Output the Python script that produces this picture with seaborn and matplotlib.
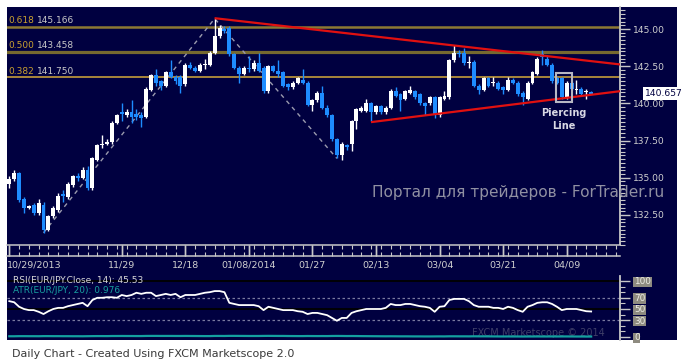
import matplotlib
matplotlib.use("Agg")
import matplotlib.pyplot as plt
import numpy as np
import pandas as pd
import seaborn as sns
from matplotlib.patches import Rectangle
from matplotlib.ticker import MultipleLocator, FixedLocator, FormatStrFormatter
from matplotlib.transforms import blended_transform_factory

# ---------------- data ----------------
opens = [134.6, 134.9, 135.3, 133.6, 133.0, 133.2, 132.6, 133.2, 131.5, 132.4,
         132.8, 133.9, 133.7, 134.5, 135.1, 135.0, 135.5, 134.3, 136.2, 137.2,
         137.3, 137.4, 138.7, 139.4, 139.2, 139.4, 139.3, 139.2, 139.1, 140.9,
         141.9, 141.5, 141.2, 142.1, 141.8, 141.8, 141.3, 142.6, 142.4, 142.2,
         142.55, 142.6, 143.4, 144.5, 145.0, 145.1, 143.3, 142.4, 142.0, 142.4,
         142.3, 142.7, 142.4, 140.8, 142.5, 142.2, 142.1, 141.3, 141.1, 141.4,
         141.6, 141.4, 139.9, 140.2, 140.7, 139.7, 139.2, 137.6, 136.5, 137.2,
         137.3, 138.8, 139.5, 139.5, 140.0, 139.4, 139.8, 139.4, 139.7, 140.8,
         140.6, 140.3, 140.7, 140.8, 140.6, 140.0, 140.0, 140.4, 139.2, 140.3,
         140.4, 142.9, 143.4, 143.4, 142.7, 142.8, 141.2, 140.9, 141.7, 141.35,
         141.4, 141.1, 140.9, 141.6, 141.4, 140.7, 140.3, 141.4, 142.0, 143.3,
         143.0, 142.6, 141.7, 141.7, 140.4, 141.4, 140.9, 141.0, 140.75, 140.75]
closes = [134.9, 135.3, 133.5, 133.0, 133.1, 132.6, 133.3, 131.5, 132.4, 133.0,
          133.8, 133.8, 134.6, 135.1, 135.0, 135.5, 134.3, 136.3, 137.2, 137.3,
          137.4, 138.7, 139.2, 139.3, 139.4, 139.1, 139.1, 139.0, 141.0, 141.9,
          141.4, 141.2, 142.1, 141.8, 141.5, 141.2, 142.6, 142.4, 142.2, 142.6,
          142.65, 143.4, 144.5, 145.1, 144.9, 143.3, 142.4, 142.0, 142.4, 142.3,
          142.7, 142.2, 140.8, 142.5, 142.2, 142.0, 141.2, 141.1, 141.4, 141.7,
          141.4, 139.9, 140.2, 140.7, 139.7, 139.2, 137.6, 136.5, 137.3, 137.1,
          138.8, 139.6, 139.7, 140.0, 139.4, 139.8, 139.4, 139.7, 140.8, 140.5,
          140.2, 140.8, 140.9, 140.4, 140.0, 139.8, 140.4, 139.2, 140.4, 140.5,
          142.9, 143.4, 143.3, 142.7, 142.8, 141.2, 140.9, 141.7, 141.2, 141.45,
          141.0, 140.9, 141.6, 141.4, 140.6, 140.4, 141.4, 142.1, 143.0, 143.1,
          142.6, 141.5, 141.4, 140.4, 141.4, 141.0, 141.0, 140.6, 140.8, 140.657]
highs = [135.1, 135.5, 135.4, 133.7, 133.2, 133.3, 133.6, 133.4, 132.5, 133.1,
         134.0, 134.2, 134.7, 135.2, 135.3, 135.7, 135.8, 136.4, 137.3, 137.9,
         137.6, 138.8, 139.3, 140.0, 139.6, 140.2, 139.6, 139.4, 141.1, 142.0,
         142.3, 141.6, 142.2, 142.9, 141.9, 141.9, 142.7, 142.8, 142.5, 142.7,
         143.0, 143.5, 145.7, 145.3, 145.2, 145.2, 143.4, 142.5, 142.5, 143.2,
         142.9, 143.4, 142.5, 142.6, 142.6, 142.9, 142.2, 141.4, 141.5, 141.8,
         142.3, 141.5, 140.3, 140.8, 141.2, 139.9, 139.3, 137.7, 137.4, 137.3,
         138.9, 139.7, 139.8, 140.3, 140.1, 139.9, 139.9, 139.8, 141.0, 141.1,
         140.7, 140.9, 141.2, 140.9, 140.7, 140.1, 140.5, 140.5, 140.5, 140.8,
         143.0, 143.9, 143.6, 143.7, 143.2, 142.9, 141.3, 141.8, 141.8, 141.8,
         141.5, 141.2, 141.8, 141.7, 141.5, 140.8, 141.5, 142.2, 143.1, 143.6,
         143.2, 142.7, 141.8, 141.8, 141.5, 141.5, 141.6, 141.1, 141.0, 140.8]
lows = [134.3, 134.8, 133.4, 132.6, 132.9, 132.5, 132.5, 131.3, 131.4, 132.3,
        132.7, 133.4, 133.6, 134.4, 134.8, 134.9, 134.2, 134.2, 136.1, 137.0,
        137.2, 137.3, 138.6, 138.8, 139.1, 138.7, 138.9, 138.4, 139.0, 140.8,
        141.2, 140.9, 141.1, 141.7, 141.3, 140.7, 141.2, 142.3, 142.1, 142.1,
        142.3, 142.5, 143.3, 144.4, 144.7, 143.2, 142.3, 141.4, 141.9, 142.1,
        142.2, 142.1, 140.7, 140.7, 142.1, 141.8, 141.1, 140.9, 141.0, 141.3,
        141.3, 139.8, 139.5, 140.1, 139.6, 139.1, 137.5, 136.3, 136.2, 136.9,
        136.8, 138.3, 139.4, 139.4, 138.8, 139.3, 139.3, 139.3, 139.6, 140.4,
        139.5, 140.2, 140.6, 140.3, 139.9, 139.2, 139.9, 139.0, 139.1, 140.2,
        140.3, 142.8, 143.1, 142.6, 142.4, 141.1, 140.6, 140.8, 141.1, 141.2,
        140.9, 140.6, 140.8, 141.3, 140.5, 139.9, 140.2, 141.3, 141.9, 142.6,
        142.5, 141.4, 141.3, 140.3, 140.3, 140.9, 140.6, 140.5, 140.3, 140.6]
rsi = [64, 62, 54, 50, 48, 48, 45, 41, 46, 50,
       52, 52, 55, 57, 59, 61, 55, 66, 70, 70,
       71, 71, 70, 75, 73, 75, 79, 77, 79, 79,
       73, 75, 77, 75, 77, 71, 75, 75, 75, 77,
       79, 80, 82, 82, 80, 61, 59, 57, 57, 57,
       57, 55, 48, 54, 52, 50, 48, 48, 48, 46,
       45, 41, 43, 43, 41, 39, 34, 29, 34, 34,
       43, 46, 48, 50, 50, 50, 50, 52, 59, 57,
       57, 59, 59, 57, 55, 54, 52, 45, 54, 55,
       66, 68, 68, 68, 64, 57, 54, 54, 54, 52,
       52, 50, 54, 52, 48, 45, 54, 57, 61, 62,
       62, 59, 54, 48, 50, 50, 50, 48, 46, 45.53]
atr = [1.05, 1.05, 1.08, 1.08, 1.07, 1.07, 1.06, 1.09, 1.09, 1.08,
       1.08, 1.07, 1.07, 1.06, 1.06, 1.05, 1.07, 1.09, 1.10, 1.10,
       1.09, 1.12, 1.12, 1.13, 1.12, 1.12, 1.11, 1.11, 1.14, 1.15,
       1.15, 1.14, 1.14, 1.14, 1.13, 1.13, 1.14, 1.13, 1.12, 1.11,
       1.10, 1.10, 1.14, 1.14, 1.13, 1.16, 1.16, 1.15, 1.14, 1.13,
       1.13, 1.13, 1.15, 1.16, 1.15, 1.14, 1.14, 1.12, 1.11, 1.10,
       1.10, 1.12, 1.11, 1.10, 1.11, 1.10, 1.13, 1.14, 1.13, 1.11,
       1.12, 1.11, 1.09, 1.08, 1.07, 1.06, 1.05, 1.04, 1.05, 1.04,
       1.03, 1.03, 1.02, 1.01, 1.01, 1.00, 1.00, 1.01, 1.02, 1.01,
       1.04, 1.04, 1.03, 1.03, 1.02, 1.04, 1.03, 1.03, 1.02, 1.01,
       1.00, 0.99, 1.00, 0.99, 0.99, 0.98, 0.99, 0.99, 1.00, 0.99,
       0.99, 1.00, 0.99, 1.00, 1.00, 0.99, 0.98, 0.98, 0.97, 0.976]

date_labels = ["10/29/2013", "11/29", "12/18", "01/08/2014", "01/27",
               "02/13", "03/04", "03/21", "04/09"]
date_idx = [0, 23, 36, 49, 62, 75, 88, 101, 114]
fib_ratios = ["0.618", "0.500", "0.382"]
fib_prices = [145.166, 143.458, 141.750]
price_ticks = [132.5, 135.0, 137.5, 140.0, 142.5, 145.0]
rsi_ticks = [0, 30, 50, 70, 100]
upper_trend_x = [42.2, 124.9]
upper_trend_y = [145.72, 142.62]
lower_trend_x = [74.2, 124.9]
lower_trend_y = [138.75, 140.82]
zigzag_x = [7, 42, 67]
zigzag_y = [131.3, 145.7, 136.3]
last_price = 140.657
pattern_span = [111.85, 115.15]
pattern_price = [140.09, 142.04]

# ---------------- layout ----------------
W, H = 687, 364
NAVY = '#000040'
BLUE = '#1e8cff'
GRAY = '#d0d0d0'
XLIM = (-0.47, 124.9)


def fx(px):
    return px / W


def fy(py):
    return 1 - py / H


fig = plt.figure(figsize=(W / 100, H / 100), dpi=100)
fig.patch.set_facecolor('white')
fig.add_artist(Rectangle((fx(7), fy(340)), 670 / W, 333 / H, transform=fig.transFigure,
                         facecolor=NAVY, edgecolor='none', zorder=-5))

# ---------------- main price panel ----------------
ax = fig.add_axes([fx(7), fy(245), 613 / W, 238 / H])
ax.set_facecolor(NAVY)
ax.set_xlim(*XLIM)
ax.set_ylim(130.48, 146.48)
for s in ['left', 'top', 'bottom']:
    ax.spines[s].set_visible(False)
ax.spines['right'].set_color('#c8c8c8')
ax.spines['right'].set_linewidth(1.3)
ax.set_xticks([])
ax.yaxis.tick_right()
ax.yaxis.set_major_locator(FixedLocator(price_ticks))
ax.yaxis.set_minor_locator(MultipleLocator(0.25))
ax.yaxis.set_major_formatter(FormatStrFormatter('%.2f'))
ax.tick_params(axis='y', which='major', length=7, width=1, color='#c8c8c8',
               labelsize=6.6, labelcolor=GRAY, pad=2)
ax.tick_params(axis='y', which='minor', length=3.5, width=0.8, color='#c8c8c8')

idx = np.arange(len(opens))
o = np.array(opens)
c = np.array(closes)
cols = ['white' if cc >= oo else BLUE for oo, cc in zip(o, c)]
ax.vlines(idx, lows, highs, colors=cols, lw=1.0, zorder=3)
bottoms = np.minimum(o, c)
heights = np.maximum(np.abs(c - o), 0.08)
ax.bar(idx, heights, bottom=bottoms, width=0.8, color=cols, linewidth=0, zorder=4)

fib_cols = ['#8c7833', '#76692f', '#d6aa3a']
fib_lw = [1.8, 2.3, 1.1]
tr = blended_transform_factory(ax.transAxes, ax.transData)
for r, p, fc, lw in zip(fib_ratios, fib_prices, fib_cols, fib_lw):
    ax.axhline(p, color=fc, lw=lw, zorder=2)
    ax.text(1 / 613, p + 0.42, r, transform=tr, color='#c9a030', fontsize=6.5,
            va='center', ha='left', zorder=6)
    ax.text(30 / 613, p + 0.42, f"{p:.3f}", transform=tr, color='#c8c8c8',
            fontsize=6.5, va='center', ha='left', zorder=6)

ax.plot(zigzag_x, zigzag_y, color='#9a9aae', lw=1.0, ls=(0, (3, 3)), zorder=2.5)
ax.plot(upper_trend_x, upper_trend_y, color='#e01010', lw=1.6, zorder=5)
ax.plot(lower_trend_x, lower_trend_y, color='#e01010', lw=1.6, zorder=5)

ax.add_patch(Rectangle((pattern_span[0], pattern_price[0]),
                       pattern_span[1] - pattern_span[0],
                       pattern_price[1] - pattern_price[0],
                       fill=False, edgecolor='#b8b8c4', lw=1.5, zorder=6))
ax.text(np.mean(pattern_span), 139.35, "Piercing", color='#d8d8e4', fontsize=7,
        fontweight='bold', ha='center', va='center', zorder=6)
ax.text(np.mean(pattern_span), 138.48, "Line", color='#d8d8e4', fontsize=7,
        fontweight='bold', ha='center', va='center', zorder=6)

ax.text(1 + 25 / 613, last_price, f"{last_price:.3f}", transform=tr, color=NAVY,
        fontsize=6.6, va='center', ha='left', clip_on=False, zorder=10,
        bbox=dict(facecolor='white', edgecolor='none', pad=1.2))

fig.text(fx(372), fy(193), "Портал для трейдеров - ForTrader.ru", color='#9090a2',
         fontsize=11.1, va='center', ha='left', zorder=20)

# ---------------- date ruler ----------------
rul = fig.add_axes([fx(7), fy(256), 613 / W, 11 / H])
rul.set_facecolor(NAVY)
rul.set_xlim(*XLIM)
rul.set_ylim(0, 1)
rul.set_yticks([])
for s in ['left', 'right']:
    rul.spines[s].set_visible(False)
for s in ['top', 'bottom']:
    rul.spines[s].set_color('#c8c8c8')
    rul.spines[s].set_linewidth(1.1)
rul.xaxis.set_major_locator(FixedLocator(date_idx))
rul.xaxis.set_minor_locator(MultipleLocator(2))
rul.tick_params(axis='x', which='both', top=True, bottom=True, direction='in',
                color='#c8c8c8', labelbottom=False)
rul.tick_params(axis='x', which='major', length=8, width=1)
rul.tick_params(axis='x', which='minor', length=3, width=0.8)
rtr = blended_transform_factory(rul.transData, fig.transFigure)
for lbl, i in zip(date_labels, date_idx):
    if i == 0:
        fig.text(fx(7), fy(265), lbl, color=GRAY, fontsize=6.8, ha='left', va='center')
    else:
        fig.text(i, fy(265), lbl, transform=rtr, color=GRAY, fontsize=6.8,
                 ha='center', va='center')

# ---------------- RSI panel ----------------
rax = fig.add_axes([fx(7), fy(340), 613 / W, 64 / H])
rax.set_facecolor(NAVY)
tax = rax.twinx()

df = pd.DataFrame({'i': idx, 'rsi': rsi, 'atr': atr})
sns.lineplot(data=df, x='i', y='rsi', ax=rax, color='white', linewidth=1.3, zorder=4)
sns.lineplot(data=df, x='i', y='atr', ax=tax, color='#14a0a0', linewidth=1.6, zorder=3)

tax.set_ylim(0, 18)
tax.set_xlim(*XLIM)
tax.set_yticks([])
tax.set_xlabel('')
tax.set_ylabel('')
for s in tax.spines.values():
    s.set_visible(False)

rax.set_xlim(*XLIM)
rax.set_ylim(-5.36, 108.9)
rax.set_xlabel('')
rax.set_ylabel('')
for s in ['left', 'top', 'bottom']:
    rax.spines[s].set_visible(False)
rax.spines['right'].set_visible(True)
rax.spines['right'].set_color('#c8c8c8')
rax.spines['right'].set_linewidth(1.3)
rax.set_xticks([])
rax.yaxis.set_major_locator(FixedLocator(rsi_ticks))
rax.yaxis.set_minor_locator(MultipleLocator(10))
rax.tick_params(axis='y', which='both', left=False, labelleft=False,
                right=True, labelright=True)
rax.tick_params(axis='y', which='major', length=7, width=1, color='#c8c8c8',
                labelsize=6.4, labelcolor='#ecece4', pad=3)
rax.tick_params(axis='y', which='minor', length=3.5, width=0.8, color='#c8c8c8')
for t in rax.get_yticklabels(which='major'):
    t.set_bbox(dict(facecolor='#8e8b80', edgecolor='none', pad=0.6))

rax.axhline(100, color='black', lw=1.3, zorder=1)
rax.axhline(50, color='black', lw=1.3, zorder=1)
rax.axhline(70, color='#7a7aa0', lw=0.9, ls=(0, (2, 2)), zorder=1)
rax.axhline(30, color='#7a7aa0', lw=0.9, ls=(0, (2, 2)), zorder=1)

rax.text(6 / 613, 0.93, "RSI(EUR/JPY.Close, 14): 45.53", transform=rax.transAxes,
         color='#d8d8d8', fontsize=6.5, va='center', ha='left', zorder=6)
rax.text(6 / 613, 0.77, "ATR(EUR/JPY, 20): 0.976", transform=rax.transAxes,
         color='#18a0a0', fontsize=6.5, va='center', ha='left', zorder=6)
rax.text(598 / 613, 0.11, "FXCM Marketscope © 2014", transform=rax.transAxes,
         color='#3e3e68', fontsize=7, va='center', ha='right', zorder=2)

fig.text(fx(12), fy(354), "Daily Chart - Created Using FXCM Marketscope 2.0",
         color='#3a3a3a', fontsize=8, va='center', ha='left')

fig.savefig('out.png', dpi=100, facecolor='white')
